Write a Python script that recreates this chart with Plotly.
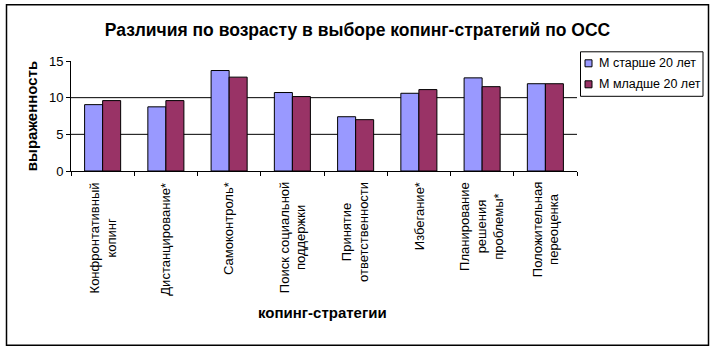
import plotly.graph_objects as go

categories = [
    "Конфронтативный<br>копинг",
    "Дистанцирование*",
    "Самоконтроль*",
    "Поиск социальной<br>поддержки",
    "Принятие<br>ответственности",
    "Избегание*",
    "Планирование<br>решения<br>проблемы*",
    "Положительная<br>переоценка",
]
older = [9.05, 8.75, 13.7, 10.7, 7.4, 10.6, 12.7, 11.9]
younger = [9.6, 9.6, 12.8, 10.15, 7.0, 11.1, 11.5, 11.9]
series_names = ["М старше 20 лет", "М младше 20 лет"]
series_colors = ["#9999FF", "#993366"]
y_ticks = [0, 5, 10, 15]
grid_vals = [5, 10]

FONT = "Liberation Sans, Arial, sans-serif"

fig = go.Figure()
for name, vals, col in zip(series_names, [older, younger], series_colors):
    fig.add_trace(go.Bar(x=categories, y=vals, name=name,
                         marker=dict(color=col, line=dict(color="#000000", width=1))))

L, R, T, B = 71, 577, 60.7, 170.7
W, H = R - L, B - T

def px_x(p):
    return (p - L) / W

def px_y(p):
    return (B - p) / H

shapes = []
annotations = []
for g in grid_vals:
    shapes.append(dict(type="line", xref="paper", yref="y", x0=0, x1=1, y0=g, y1=g,
                       line=dict(color="#000000", width=1), layer="below"))
# outer frame
shapes.append(dict(type="rect", xref="paper", yref="paper",
                   x0=px_x(6.5), x1=px_x(708.5), y0=px_y(345), y1=px_y(4.5),
                   line=dict(color="#000000", width=1.5)))

# category labels (rotated, centred lines)
for c in categories:
    annotations.append(dict(x=c, xref="x", y=px_y(180), yref="paper",
                            text=c, textangle=-90, align="center",
                            xanchor="center", yanchor="top", showarrow=False,
                            font=dict(size=13, family=FONT)))

# x-axis title
annotations.append(dict(x=px_x(322), xref="paper", y=px_y(312), yref="paper",
                        text="<b>копинг-стратегии</b>", showarrow=False,
                        xanchor="center", yanchor="middle",
                        font=dict(size=15, family=FONT)))

# legend (custom box)
shapes.append(dict(type="rect", xref="paper", yref="paper",
                   x0=px_x(580.5), x1=px_x(703), y0=px_y(96), y1=px_y(51.5),
                   line=dict(color="#000000", width=1), fillcolor="white"))
leg_y = [63, 84]
for name, col, yy in zip(series_names, series_colors, leg_y):
    shapes.append(dict(type="rect", xref="paper", yref="paper",
                       x0=px_x(585), x1=px_x(592), y0=px_y(yy + 3.5), y1=px_y(yy - 3.5),
                       line=dict(color="#000000", width=1), fillcolor=col))
    annotations.append(dict(x=px_x(597), xref="paper", y=px_y(yy), yref="paper",
                            text=name, showarrow=False, xanchor="left", yanchor="middle",
                            font=dict(size=12.5, family=FONT)))

fig.update_layout(
    width=715, height=351,
    margin=dict(l=L, r=715 - R, t=T, b=351 - B),
    paper_bgcolor="white", plot_bgcolor="white",
    barmode="group", bargap=0.43, bargroupgap=0,
    font=dict(family=FONT, color="#000000", size=12),
    title=dict(text="<b>Различия по возрасту в выборе копинг-стратегий по ОСС</b>",
               x=0.5, xref="container", xanchor="center",
               y=1 - 30 / 351, yref="container", yanchor="middle",
               font=dict(size=17.5, family=FONT)),
    shapes=shapes,
    annotations=annotations,
    showlegend=False,
)
fig.update_xaxes(
    showline=True, linecolor="#000000", linewidth=1,
    ticks="outside", ticklen=4, tickcolor="#000000", tickson="boundaries",
    showticklabels=False, showgrid=False,
)
fig.update_yaxes(
    range=[0, 15], tickvals=y_ticks, showgrid=False, zeroline=False,
    showline=True, linecolor="#000000", linewidth=1,
    ticks="outside", ticklen=4, tickcolor="#000000",
    tickfont=dict(size=13, family=FONT),
    title=dict(text="<b>выраженность</b>", font=dict(size=15, family=FONT), standoff=7),
)

fig.write_html("out.html")
